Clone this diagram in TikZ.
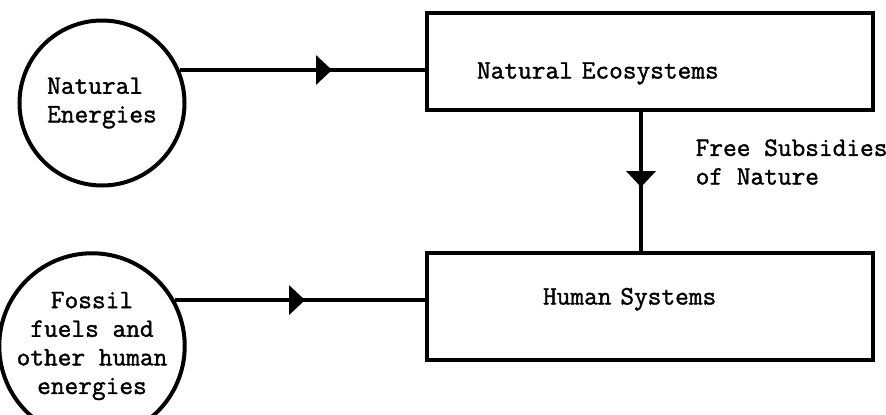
\documentclass[tikz,border=0pt]{standalone}
\usepackage{fontspec}
\usetikzlibrary{arrows.meta,decorations.markings}
\setmonofont{Latin Modern Mono}[FakeBold=1.4]
\begin{document}
\begin{tikzpicture}[x=0.5pt, y=-0.5pt, line width=1.7pt,
    font=\ttfamily\fontsize{13.3}{14.3}\selectfont,
    src/.style = {draw, circle, line width=2pt, inner sep=0pt},
    sys/.style = {draw, rectangle, minimum width=223pt, text width=223pt,
        inner sep=0pt, align=left},
    flow/.style = {postaction={decorate}, decoration={markings,
        mark=at position #1 with {\arrow{Triangle[length=8pt, width=14.5pt]}}}}]
    \useasboundingbox (0,0) rectangle (886,414);
    \clip (0,0) rectangle (886,414);

    \node[src, minimum size=82.5pt, align=left] (nat) at (102,103) {Natural\\Energies};
    \node[src, minimum size=83pt, align=center] (fos) at (92,346) {Fossil\\fuels and\\other human\\energies};
    \node[sys, minimum height=48.5pt, text height=17pt, text depth=0pt] (eco) at (650,61.5)
        {\hspace*{25pt}Natural Ecosystems};
    \node[sys, minimum height=53.5pt, text height=8pt, text depth=10pt] (hum) at (650,306.5)
        {\hspace*{58pt}Human Systems};
    \node[anchor=west, align=left, inner sep=0pt] (sub) at (694,162) {Free Subsidies\\of Nature};

    \draw[flow=0.62] (nat.23) -- (nat.23 -| eco.west);
    \draw[flow=0.52] (fos.29) -- (fos.29 -| hum.west);
    \draw[flow=0.54] ([xshift=-4.5pt]eco.south) -- ([xshift=-4.5pt]eco.south |- hum.north);
\end{tikzpicture}
\end{document}
